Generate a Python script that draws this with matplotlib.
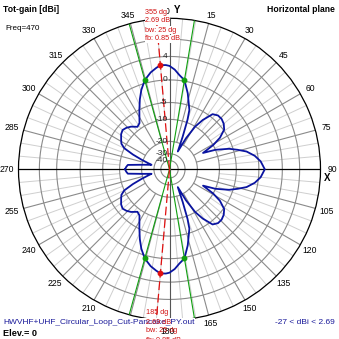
import numpy as np
import matplotlib
matplotlib.use("Agg")
import matplotlib.pyplot as plt

# Horizontal-plane total gain (dBi) versus compass bearing (deg, clockwise from Y)
bearing_deg = [
    270, 273, 276, 280, 284, 286, 289, 292, 295, 298, 301, 306, 310, 314, 318,
    323, 327, 330, 333, 337, 340.5, 344.5, 349, 352.5, 355, 358,
    360, 363, 366, 369.5, 373.5, 378.5, 380, 382, 385, 388, 391, 394, 398, 402,
    406, 410, 414, 418, 421, 424, 427, 431, 434, 437, 441, 445, 450,
    455, 459, 463, 466, 469, 473, 476, 479, 482, 486, 490, 494, 498, 502,
    506, 509, 512, 515, 518, 520, 521.5, 526.5, 530.5, 534, 537, 540, 542,
    545, 547.5, 551, 555.5, 559.5, 563, 567, 570, 573, 577, 582, 586, 590,
    594, 599, 602, 605, 608, 611, 614, 616, 620, 624, 627, 630,
]
gain_dbi = [
    -12.0, -12.4, -13.0, -21.0, -27.0, -24.0, -19.0, -14.0, -10.0, -8.5, -7.9, -6.9, -6.5, -6.9, -7.6,
    -8.9, -8.3, -6.8, -5.1, -2.8, -1.0, 0.6, 1.7, 2.3, 2.69, 2.65,
    2.5, 1.9, 1.0, 0.2, -2.3, -6.1, -9.1, -16.0, -26.0, -16.0, -10.0, -7.0, -4.2, -3.6,
    -3.6, -4.0, -4.8, -7.0, -10.0, -15.0, -10.0, -6.0, -4.0, -2.1, -0.6, 0.4, 1.1,
    0.4, -0.6, -2.1, -4.0, -6.0, -10.0, -15.0, -10.0, -7.0, -4.8, -4.0, -3.6, -3.6, -4.2,
    -7.0, -10.0, -16.0, -26.0, -16.0, -9.1, -6.1, -2.3, 0.2, 1.0, 1.9, 2.5, 2.65,
    2.69, 2.3, 1.7, 0.6, -1.0, -2.8, -5.1, -6.8, -8.3, -8.9, -7.6, -6.9, -6.5,
    -6.9, -7.9, -8.5, -10.0, -14.0, -19.0, -24.0, -27.0, -21.0, -13.0, -12.4, -12.0,
]

# Maximum-gain directions and -3 dB beamwidth edges
max_bearing = [355, 185]
max_gain = [2.69, 2.69]
bw_bearing = [344.5, 9.5, 170.5, 195.5]
bw_gain = [0.6, 0.2, 0.2, 0.6]

# Radial grid (dBi) on the ARRL log scale
outer_db = 9.0
ring_db = [6.45, 4, 0, -5, -10, -20, -30, -40]
ring_text = ["", "4", "0", "-5", "-10", "-20", "-30", "-40"]
angle_ticks = [15, 30, 45, 60, 75, 90, 105, 120, 135, 150, 165,
               210, 225, 240, 255, 270, 285, 300, 315, 330, 345]

BASE = 0.89  # 0.89 per 2 dB


def fwd(db):
    db = np.asarray(db, dtype=float)
    return BASE ** ((outer_db - db) / 2.0)


def inv(r):
    r = np.asarray(r, dtype=float)
    r = np.where(r > 1e-12, r, 1e-12)
    return outer_db - 2.0 * np.log(r) / np.log(BASE)


W = H = 339
fig = plt.figure(figsize=(W / 100, H / 100), dpi=100)
fig.patch.set_facecolor("white")
plt.rcParams["font.family"] = ["Liberation Sans", "DejaVu Sans"]

cx, cy, R = 169.5, 169.3, 151.0
ax = fig.add_axes([(cx - R) / W, 1 - (cy + R) / H, 2 * R / W, 2 * R / H],
                  projection="polar")
ax.set_rscale("function", functions=(fwd, inv))
ax.set_theta_zero_location("N")
ax.set_theta_direction(-1)
ax.set_rlim(-300, outer_db)
ax.grid(False)
ax.set_xticks([])
ax.set_yticks([])
ax.spines["polar"].set_color("black")
ax.spines["polar"].set_linewidth(0.9)
ax.set_facecolor("white")

full = np.linspace(0, 2 * np.pi, 721)
DARK = "#8a8a8a"
LIGHT = "#cfcfcf"

# light radial lines every 5 deg
for a in range(0, 360, 5):
    if a % 15:
        ax.plot([np.radians(a)] * 2, [-10, outer_db], color=LIGHT, lw=0.7, zorder=1)
# rings
for db in ring_db:
    ax.plot(full, [db] * len(full), color=DARK, lw=0.8, zorder=2)
# dark radial lines every 15 deg
for a in range(0, 360, 15):
    if a % 90:
        ax.plot([np.radians(a)] * 2, [-20, outer_db], color=DARK, lw=0.8, zorder=2)
# main axes through centre
ax.plot([np.radians(90), np.radians(90)], [-300, outer_db], color="black", lw=0.9, zorder=3)
ax.plot([np.radians(270), np.radians(270)], [-300, outer_db], color="black", lw=0.9, zorder=3)
ax.plot([0, 0], [-300, outer_db], color="#555555", lw=0.8, zorder=3)
ax.plot([np.pi, np.pi], [-300, outer_db], color="#555555", lw=0.8, zorder=3)

# beamwidth lines (green) and max direction (red dashed)
for b in bw_bearing:
    ax.plot([np.radians(b)] * 2, [-300, outer_db], color="#10a010", lw=0.8, zorder=4)
for b in max_bearing:
    ax.plot([np.radians(b)] * 2, [-300, outer_db], color="#e01010", lw=0.9,
            ls=(0, (7, 3)), zorder=4)

# ring labels
for db, t in zip(ring_db, ring_text):
    if t:
        ax.annotate(t, xy=(0, db), xytext=(-1.5, 0), textcoords="offset points",
                    ha="right", va="center", fontsize=6, color="#202020", zorder=6)

# pattern
th = np.radians(bearing_deg)
ax.plot(th, gain_dbi, color="#0a14a0", lw=1.3, zorder=5)
ax.plot(np.radians(max_bearing), max_gain, "o", color="#e01010", ms=3.2, zorder=6)
ax.plot(np.radians(bw_bearing), bw_gain, "o", color="#10a010", ms=3.2, zorder=6)

# angle labels around the rim
for a in angle_ticks:
    t = np.radians(a)
    rp = 158 + 5 * abs(np.sin(t))
    x = cx + rp * np.sin(t)
    y = cy - rp * np.cos(t)
    fig.text(x / W, 1 - y / H, str(a), ha="center", va="center", fontsize=6.2,
             color="black")
fig.text(167 / W, 1 - 11 / H, "0", ha="center", va="center", fontsize=6.2)
fig.text(177 / W, 1 - 10 / H, "Y", ha="center", va="center", fontsize=7, fontweight="bold")
fig.text(168 / W, 1 - 331 / H, "180", ha="center", va="center", fontsize=6.2)
fig.text(327 / W, 1 - 178 / H, "X", ha="center", va="center", fontsize=7, fontweight="bold")

# headers
fig.text(3 / W, 1 - 9 / H, "Tot-gain [dBi]", ha="left", va="center",
         fontsize=6.2, fontweight="bold")
fig.text(335 / W, 1 - 9 / H, "Horizontal plane", ha="right", va="center",
         fontsize=6.2, fontweight="bold")
fig.text(5 / W, 1 - 28 / H, "Freq=470", ha="left", va="center", fontsize=5.8)

# footer
fig.text(3 / W, 1 - 322 / H, "HWVHF+UHF_Circular_Loop_Cut-Pancake_PY.out", ha="left",
         va="center", fontsize=6.0, color="#1a1a9a",
         bbox=dict(facecolor="white", edgecolor="none", pad=0.3))
fig.text(3 / W, 1 - 333 / H, "Elev.= 0", ha="left", va="center", fontsize=6.6,
         fontweight="bold")
fig.text(335 / W, 1 - 322 / H, "-27 < dBi < 2.69", ha="right", va="center",
         fontsize=6, color="#1a1a9a")

# max-gain annotations
top_lines = ["355 dg", "2.69 dB", "bw: 25 dg", "fb: 0.85 dB"]
for i, s in enumerate(top_lines):
    fig.text(145 / W, 1 - (12 + 9 * i) / H, s, ha="left", va="center", fontsize=5.2,
             color="#d01010", bbox=dict(facecolor="white", edgecolor="none", pad=0.2))
bot_lines = ["185 dg", "2.69 dB", "bw: 25 dg", "fb: 0.85 dB"]
for i, s in enumerate(bot_lines):
    fig.text(146 / W, 1 - (313 + 9 * i) / H, s, ha="left", va="center", fontsize=5.2,
             color="#d01010")

fig.savefig("out.png", dpi=100, facecolor="white")
